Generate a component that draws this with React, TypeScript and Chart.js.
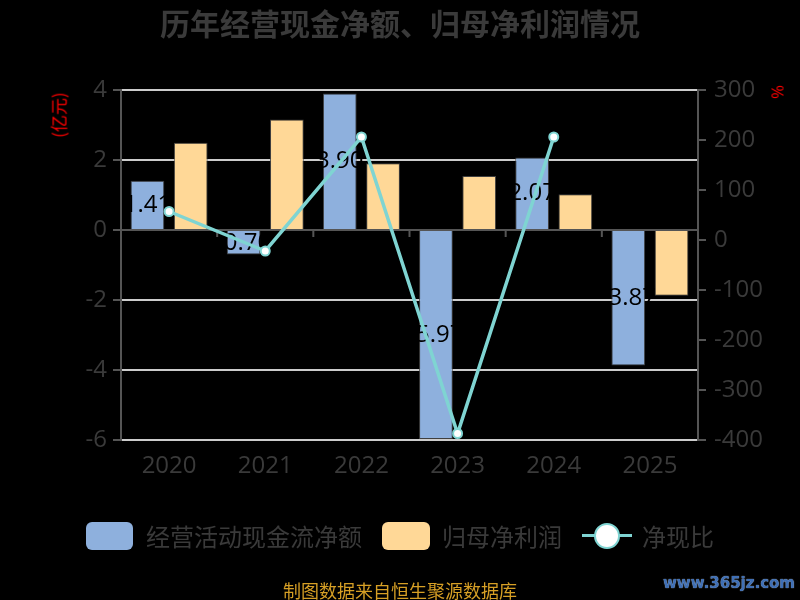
import { useEffect, useRef } from 'react';
import { Chart, registerables } from 'chart.js';

Chart.register(...registerables);

// data
const years = ['2020', '2021', '2022', '2023', '2024', '2025'];
const cashFlow = [1.41, -0.7, 3.9, -5.97, 2.07, -3.87];
const netProfit = [2.49, 3.16, 1.91, 1.54, 1.02, -1.88];
const cashRatio = [57, -22, 206, -387, 206, null];
const leftTicks = [-6, -4, -2, 0, 2, 4];
const rightTicks = [-400, -300, -200, -100, 0, 100, 200, 300];

const BLUE = '#8eb0dd';
const YELLOW = '#ffd897';
const CYAN = '#7fd4d2';
const TEXT = '#3a3a3a';
const AXIS = '#555555';
const FONT = "'Open Sans', 'Noto Sans CJK SC', sans-serif";
const CJK = "'Noto Sans CJK SC', sans-serif";

// x axis line on zero, with category boundary ticks
const zeroAxis = {
  id: 'zeroAxis',
  beforeDatasetsDraw(chart: any) {
    const { ctx, chartArea, scales } = chart;
    const y0 = scales.y.getPixelForValue(0);
    const w = (chartArea.right - chartArea.left) / years.length;
    ctx.save();
    ctx.strokeStyle = AXIS;
    ctx.lineWidth = 2;
    ctx.beginPath();
    ctx.moveTo(chartArea.left, y0);
    ctx.lineTo(chartArea.right, y0);
    for (let k = 1; k < years.length; k++) {
      const x = chartArea.left + k * w;
      ctx.moveTo(x, y0);
      ctx.lineTo(x, y0 + 7);
    }
    ctx.stroke();
    ctx.restore();
  },
};

// value labels inside the cash flow bars
const barLabels = {
  id: 'barLabels',
  afterDatasetDraw(chart: any, args: any) {
    if (args.index !== 0) return;
    const { ctx } = chart;
    ctx.save();
    ctx.fillStyle = '#000';
    ctx.font = `24px ${FONT}`;
    ctx.textAlign = 'center';
    ctx.textBaseline = 'middle';
    args.meta.data.forEach((bar: any, i: number) => {
      const { x, y, base } = bar.getProps(['x', 'y', 'base'], true);
      ctx.fillText(cashFlow[i].toFixed(2), x, (y + base) / 2);
    });
    ctx.restore();
  },
};

function ChartCanvas() {
  const canvasRef = useRef<HTMLCanvasElement>(null);

  useEffect(() => {
    if (!canvasRef.current) return;
    const chart = new Chart(canvasRef.current, {
      type: 'bar',
      data: {
        labels: years,
        datasets: [
          {
            label: '经营活动现金流净额',
            data: cashFlow,
            backgroundColor: BLUE,
            borderColor: 'rgba(70,70,70,0.9)',
            borderWidth: 1,
            yAxisID: 'y',
            order: 1,
            categoryPercentage: 0.9,
            barPercentage: 0.78,
          },
          {
            label: '归母净利润',
            data: netProfit,
            backgroundColor: YELLOW,
            borderColor: 'rgba(70,70,70,0.9)',
            borderWidth: 1,
            yAxisID: 'y',
            order: 1,
            categoryPercentage: 0.9,
            barPercentage: 0.78,
          },
          {
            type: 'line',
            label: '净现比',
            data: cashRatio,
            borderColor: CYAN,
            borderWidth: 3.5,
            pointRadius: 4.5,
            pointBackgroundColor: '#ffffff',
            pointBorderColor: CYAN,
            pointBorderWidth: 2,
            yAxisID: 'y1',
            order: 0,
            tension: 0,
          } as any,
        ],
      },
      options: {
        responsive: false,
        animation: false,
        layout: { padding: { top: 90, left: 0, right: 0, bottom: 0 } },
        plugins: {
          legend: { display: false },
          title: { display: false },
          tooltip: { enabled: false },
        },
        scales: {
          x: {
            grid: { display: false, drawTicks: false },
            border: { display: false },
            ticks: { color: TEXT, font: { size: 24, family: FONT }, padding: 12 },
            afterFit: (s: any) => { s.height = 160; },
          },
          y: {
            position: 'left',
            min: -6,
            max: 4,
            afterBuildTicks: (s: any) => { s.ticks = leftTicks.map((value) => ({ value })); },
            afterFit: (s: any) => { s.width = 121; },
            grid: {
              color: (c: any) => (c.tick && c.tick.value === 0 ? 'rgba(0,0,0,0)' : '#cccccc'),
              lineWidth: 2,
              tickColor: AXIS,
              tickLength: 8,
            },
            border: { display: true, color: AXIS, width: 2 },
            ticks: { color: TEXT, font: { size: 24, family: FONT }, padding: 6 },
          },
          y1: {
            position: 'right',
            min: -400,
            max: 300,
            afterBuildTicks: (s: any) => { s.ticks = rightTicks.map((value) => ({ value })); },
            afterFit: (s: any) => { s.width = 102; },
            grid: { drawOnChartArea: false, color: AXIS, lineWidth: 2, tickLength: 8 },
            border: { display: true, color: AXIS, width: 2 },
            ticks: { color: TEXT, font: { size: 24, family: FONT }, padding: 8 },
          },
        },
      },
      plugins: [zeroAxis, barLabels],
    });
    return () => chart.destroy();
  }, []);

  return <canvas ref={canvasRef} width={800} height={600} style={{ position: 'absolute', left: 0, top: 0 }} />;
}

const abs = (s: any) => ({ position: 'absolute' as const, whiteSpace: 'nowrap' as const, ...s });

export default function App() {
  useEffect(() => {
    document.body.style.margin = '0';
    document.body.style.background = '#000';
  }, []);

  const legendText = { fontFamily: CJK, fontSize: 24, color: TEXT, lineHeight: '30px', top: 521 };

  return (
    <div style={{ position: 'relative', width: 800, height: 600, background: '#000', overflow: 'hidden' }}>
      <ChartCanvas />
      <div style={abs({ top: 4, left: 0, width: 800, textAlign: 'center', fontFamily: CJK, fontWeight: 700, fontSize: 30, lineHeight: '36px', color: TEXT })}>
        历年经营现金净额、归母净利润情况
      </div>
      <div style={abs({ left: 58, top: 115, transform: 'translate(-50%, -50%) rotate(-90deg)', fontFamily: CJK, fontSize: 17, color: '#ff0000' })}>
        (亿元)
      </div>
      <div style={abs({ left: 777, top: 92, transform: 'translate(-50%, -50%) rotate(-90deg)', fontFamily: FONT, fontSize: 17, color: '#ff0000' })}>
        %
      </div>

      <div style={abs({ left: 86, top: 522, width: 47, height: 28, borderRadius: 6, background: BLUE })} />
      <div style={abs({ left: 146, ...legendText })}>经营活动现金流净额</div>
      <div style={abs({ left: 382, top: 522, width: 48, height: 28, borderRadius: 6, background: YELLOW })} />
      <div style={abs({ left: 442, ...legendText })}>归母净利润</div>
      <div style={abs({ left: 582, top: 534, width: 50, height: 3, background: CYAN })} />
      <div style={abs({ left: 594, top: 523, width: 22, height: 22, borderRadius: '50%', background: '#fff', border: `2px solid ${CYAN}` })} />
      <div style={abs({ left: 642, ...legendText })}>净现比</div>

      <div style={abs({ top: 578, left: 0, width: 800, textAlign: 'center', fontFamily: CJK, fontSize: 18, lineHeight: '24px', color: '#d69f25' })}>
        制图数据来自恒生聚源数据库
      </div>
      <div style={abs({ top: 574, right: 5, fontFamily: "'DejaVu Sans', sans-serif", fontWeight: 700, fontSize: 15, color: '#3f6fb5', textShadow: '0 0 1px #cfe0f5' })}>
        www.365jz.com
      </div>
    </div>
  );
}
